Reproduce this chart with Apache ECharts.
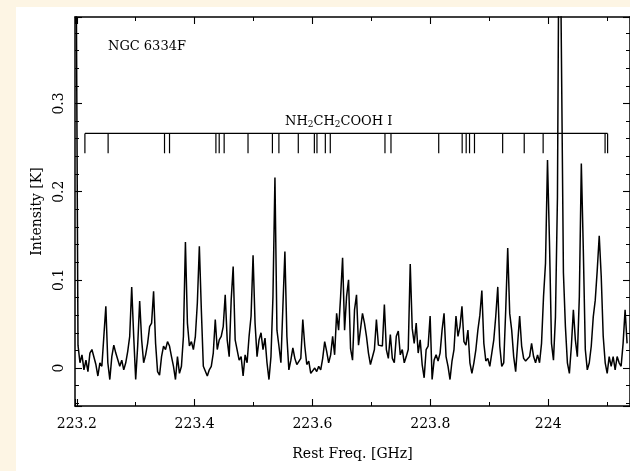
<!DOCTYPE html>
<html>
<head>
<meta charset="utf-8">
<script src="https://cdn.jsdelivr.net/npm/echarts@6/dist/echarts.min.js"></script>
<style>
  html, body { margin: 0; padding: 0; width: 630px; height: 471px; overflow: hidden; background: #fdf5e4; }
  #chart { position: absolute; left: 16px; top: 7px; width: 614px; height: 464px; background: #ffffff; }
</style>
</head>
<body>
<div id="chart"></div>
<script>
// NGC 6334F spectrum, 223.2 - 224.13 GHz
const freqStart = 223.1987;      // GHz, centre of the first channel
const channelWidth = 0.003376;   // GHz per channel

// antenna temperature per channel [K]
const intensity = [
  0.500, 0.026, 0.006, 0.015, -0.002, 0.009, -0.004, 0.017, 0.021, 0.023,
  0.004, -0.009, 0.006, 0.002, 0.036, 0.070, 0.006, -0.013, 0.013, 0.026,
  0.017, 0.015, 0.002, 0.009, -0.002, 0.006, 0.019, 0.036, 0.092, 0.036,
  -0.013, 0.025, 0.076, 0.032, 0.006, 0.015, 0.028, 0.047, 0.051, 0.087,
  0.028, -0.004, -0.008, 0.013, 0.025, 0.021, 0.030, 0.025, 0.013, 0.002,
  -0.013, 0.013, -0.006, 0.002, 0.036, 0.143, 0.051, 0.025, 0.030, 0.021,
  0.036, 0.074, 0.138, 0.066, 0.002, 0.000, -0.009, -0.002, 0.002, 0.017,
  0.055, 0.021, 0.032, 0.036, 0.047, 0.083, 0.032, 0.013, 0.077, 0.115,
  0.032, 0.032, 0.009, 0.013, -0.009, 0.015, 0.006, 0.036, 0.059, 0.128,
  0.051, 0.013, 0.032, 0.040, 0.021, 0.034, 0.006, -0.013, 0.013, 0.081,
  0.216, 0.043, 0.025, 0.006, 0.070, 0.132, 0.036, -0.002, 0.009, 0.023,
  0.011, 0.004, 0.006, 0.011, 0.055, 0.025, 0.004, 0.008, -0.006, -0.008,
  0.000, -0.004, 0.002, -0.002, 0.011, 0.030, 0.019, 0.006, 0.015, 0.036,
  0.015, 0.062, 0.043, 0.081, 0.125, 0.043, 0.081, 0.100, 0.022, 0.009,
  0.066, 0.083, 0.026, 0.028, 0.062, 0.051, 0.036, 0.017, 0.004, 0.002,
  0.021, 0.055, 0.026, 0.028, 0.025, 0.072, 0.021, 0.011, 0.038, 0.011,
  0.006, 0.036, 0.042, 0.015, 0.021, 0.006, 0.013, 0.021, 0.118, 0.045,
  0.028, 0.051, 0.017, 0.032, 0.004, -0.011, 0.021, 0.025, 0.059, -0.013,
  0.009, 0.015, 0.008, 0.017, 0.043, 0.062, 0.013, 0.002, -0.013, 0.008,
  0.021, 0.059, 0.036, 0.047, 0.070, 0.030, 0.026, 0.043, 0.006, -0.006,
  0.006, 0.021, 0.043, 0.060, 0.088, 0.028, 0.008, 0.011, 0.002, 0.017,
  0.032, 0.059, 0.092, 0.025, 0.002, 0.006, 0.066, 0.136, 0.062, 0.043,
  0.013, -0.004, 0.028, 0.059, 0.025, 0.011, 0.008, 0.006, 0.013, 0.028,
  0.013, 0.006, 0.015, 0.006, 0.028, 0.081, 0.119, 0.236, 0.142, 0.028,
  0.009, 0.058, 0.194, 0.600, 0.600, 0.108, 0.047, 0.006, -0.006, 0.025,
  0.066, 0.032, 0.013, 0.081, 0.232, 0.134, 0.021, -0.002, 0.006, 0.025,
  0.058, 0.077, 0.111, 0.150, 0.104, 0.036, 0.006, -0.006, 0.013, 0.002,
  0.013, -0.002, 0.013, 0.006, 0.002, 0.028, 0.066, 0.028
];

// NH2CH2COOH conformer I transition frequencies [GHz]
const glycineLines = [
  223.2138, 223.2532, 223.3489, 223.3574, 223.4361, 223.4417, 223.4501,
  223.4906, 223.5320, 223.5430, 223.5759, 223.6032, 223.6076, 223.6218,
  223.6302, 223.7230, 223.7332, 223.8142, 223.8540, 223.8608, 223.8665,
  223.8749, 223.9227, 223.9593, 223.9914, 224.0965, 224.1008
];
const glycineLevel = [0.2435, 0.266];   // K, bottom and top of the line markers

const freqRange = [223.197, 224.1388];
const intensityRange = [-0.043, 0.398];

const FONT = 'DejaVu Serif';
const INK = '#000000';

const spectrum = intensity.map((v, i) => [freqStart + i * channelWidth, v]);

const chart = echarts.init(document.getElementById('chart'), null, { renderer: 'canvas' });

function frameAxis(extra) {
  return Object.assign({
    type: 'value',
    axisLine: { show: true, onZero: false, lineStyle: { color: INK, width: 1.5 } },
    axisTick: { show: true, inside: true, length: 7, lineStyle: { color: INK, width: 1.1 } },
    minorTick: { show: true, length: 4, lineStyle: { color: INK, width: 1 } },
    splitLine: { show: false },
    minorSplitLine: { show: false }
  }, extra);
}

const option = {
  animation: false,
  backgroundColor: '#ffffff',
  grid: { left: 59, top: 10, right: -3, bottom: 65, containLabel: false },
  xAxis: [
    frameAxis({
      position: 'bottom', min: freqRange[0], max: freqRange[1], splitNumber: 5,
      minorTick: { show: true, splitNumber: 2, length: 4, lineStyle: { color: INK, width: 1 } },
      axisLabel: { showMinLabel: false, showMaxLabel: false, margin: 11, color: INK, fontFamily: FONT, fontSize: 14 },
      name: 'Rest Freq. [GHz]', nameLocation: 'middle', nameGap: 41,
      nameTextStyle: { color: INK, fontFamily: FONT, fontSize: 14 }
    }),
    frameAxis({
      position: 'top', min: freqRange[0], max: freqRange[1], splitNumber: 5,
      minorTick: { show: true, splitNumber: 2, length: 4, lineStyle: { color: INK, width: 1 } },
      axisLabel: { show: false }
    })
  ],
  yAxis: [
    frameAxis({
      position: 'left', min: intensityRange[0], max: intensityRange[1], splitNumber: 4,
      minorTick: { show: true, splitNumber: 5, length: 4, lineStyle: { color: INK, width: 1 } },
      axisLabel: { showMinLabel: false, showMaxLabel: false, rotate: 90, margin: 9, color: INK, fontFamily: FONT, fontSize: 14 },
      name: 'Intensity [K]', nameLocation: 'middle', nameRotate: 90, nameGap: 30,
      nameTextStyle: { color: INK, fontFamily: FONT, fontSize: 14 }
    }),
    frameAxis({
      position: 'right', min: intensityRange[0], max: intensityRange[1], splitNumber: 4,
      minorTick: { show: true, splitNumber: 5, length: 4, lineStyle: { color: INK, width: 1 } },
      axisLabel: { show: false }
    })
  ],
  graphic: [
    {
      type: 'text', left: 92, top: 33, silent: true,
      style: { text: 'NGC 6334F', fill: INK, font: '13px "DejaVu Serif"' }
    },
    {
      type: 'text', left: 269, top: 108, silent: true,
      style: {
        text: 'NH{s|2}CH{s|2}COOH I', fill: INK, font: '13px "DejaVu Serif"',
        rich: { s: { fontSize: 9, fontFamily: FONT, fill: INK, padding: [7, 0, 0, 0] } }
      }
    }
  ],
  series: [
    {
      name: 'spectrum', type: 'line', xAxisIndex: 0, yAxisIndex: 0,
      data: spectrum, showSymbol: false, symbol: 'none', clip: true,
      lineStyle: { color: INK, width: 1.5 }, z: 3
    },
    {
      name: 'NH2CH2COOH I', type: 'line', xAxisIndex: 0, yAxisIndex: 0,
      data: [[glycineLines[0], glycineLevel[1]], [glycineLines[glycineLines.length - 1], glycineLevel[1]]],
      showSymbol: false, symbol: 'none', lineStyle: { color: INK, width: 1.3 }, z: 2
    },
    {
      name: 'NH2CH2COOH I markers', type: 'custom', xAxisIndex: 0, yAxisIndex: 0,
      data: glycineLines.map(f => [f, glycineLevel[0], glycineLevel[1]]),
      encode: { x: 0, y: [1, 2] },
      renderItem: function (params, api) {
        const p0 = api.coord([api.value(0), api.value(1)]);
        const p1 = api.coord([api.value(0), api.value(2)]);
        return {
          type: 'line',
          shape: { x1: p0[0], y1: p0[1], x2: p1[0], y2: p1[1] },
          style: { stroke: INK, lineWidth: 1.2 }
        };
      },
      z: 2
    }
  ]
};

chart.setOption(option);
</script>
</body>
</html>
